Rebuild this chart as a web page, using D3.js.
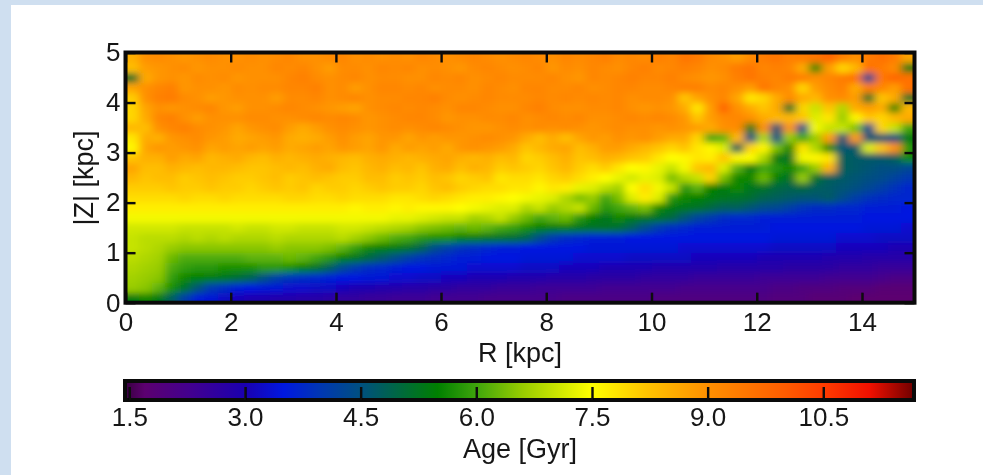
<!DOCTYPE html>
<html><head><meta charset="utf-8">
<style>
html,body{margin:0;padding:0;background:#fff;overflow:hidden}
svg{display:block}
text{font-family:"Liberation Sans",Arial,sans-serif;fill:#161616}
</style>
<script src="https://cdn.jsdelivr.net/npm/d3@7"></script>
</head><body><svg id="c" width="983" height="475"></svg>
<script>
const xTicks=[0,2,4,6,8,10,12,14];
const yTicks=[0,1,2,3,4,5];
const barTicks=[1.5,3.0,4.5,6.0,7.5,9.0,10.5];
const colorStops=[1.44,1.7,2.3,3.0,3.5,4.0,4.5,5.0,5.5,6.0,6.6,7.5,8.2,9.0,10.0,10.5,11.1,11.67];
const colorValues=["#38003f","#5c0070","#420090","#1a00b0","#0018e0","#0038b0","#005080","#006840","#008000","#3fa50c","#98cc00","#ffff00","#ffc400","#ff9000","#ff5c00","#ff3c00","#f01000","#700000"];
const zCenters=[4.9,4.7,4.5,4.3,4.1,3.9,3.7,3.5,3.3,3.1,2.9,2.7,2.5,2.3,2.1,1.9,1.7,1.5,1.3,1.1,0.9,0.7,0.5,0.3,0.1];
const z49=[8.5,9.0,9.1,9.0,8.9,9.0,9.1,9.0,9.0,9.1,9.0,9.1,9.2,9.0,9.0,9.1,9.2,9.0,9.1,9.0,9.1,9.0,9.2,9.1,9.0,9.1,9.2,9.1,9.0,9.1,9.2,9.1,9.0,9.2,9.1,9.2,9.3,9.1,9.2,9.1,9.3,9.2,9.5,9.4,9.1,9.0,8.8,9.1,9.4,9.5,9.3,9.4,9.5,9.8,9.3,9.0,9.4,9.6,9.4,8.7];
const z47=[8.3,8.8,8.9,9.0,9.1,8.9,9.0,9.0,9.1,9.0,9.0,9.2,9.1,9.2,9.0,8.8,9.1,9.1,9.0,9.2,9.1,9.2,9.0,9.1,9.0,8.9,9.1,9.2,9.1,9.0,9.1,9.2,8.9,9.1,9.0,9.2,9.1,9.0,9.2,9.3,9.1,9.2,9.3,9.2,9.0,9.1,9.4,9.5,9.2,9.3,9.2,8.6,5.6,8.8,8.0,8.4,9.6,9.4,9.1,5.4];
const z45=[5.2,8.6,8.9,9.0,8.9,9.1,9.0,9.1,8.9,9.0,9.0,9.0,9.2,9.3,9.1,9.0,9.1,9.2,9.0,9.1,9.1,9.0,9.0,9.2,9.1,9.2,9.0,9.1,9.2,9.1,9.1,9.1,9.2,9.0,8.9,9.2,9.1,9.2,9.3,9.2,9.2,9.3,9.1,9.0,8.9,9.0,9.3,9.5,9.3,9.2,9.4,9.3,9.0,9.2,9.4,9.6,4.4,9.5,9.8,9.6];
const z43=[8.7,9.0,9.2,9.3,8.9,9.0,9.0,8.9,9.1,9.0,9.1,9.1,9.2,9.2,9.3,9.0,9.1,8.8,9.0,9.2,9.2,9.1,9.2,9.0,9.1,9.1,9.0,9.2,9.1,9.0,9.2,9.2,9.1,9.1,9.2,9.0,9.1,9.2,9.2,9.1,9.1,9.2,9.3,9.3,9.1,9.2,9.0,8.8,9.5,9.2,9.0,8.0,8.8,9.1,9.3,8.6,9.4,9.2,8.8,9.6];
const z41=[8.1,9.0,9.3,9.4,9.1,9.0,8.8,8.9,9.0,9.0,9.0,8.8,9.1,9.1,9.2,9.0,9.1,9.2,9.0,9.1,9.1,9.2,9.2,9.3,9.1,9.0,9.1,9.2,9.1,9.1,9.1,9.2,9.1,9.2,9.1,9.2,9.1,9.2,9.0,9.1,9.1,9.0,8.2,8.7,9.0,9.2,8.7,7.8,8.0,8.6,9.1,8.6,8.4,9.0,9.1,8.8,5.2,8.2,8.6,5.2];
const z39=[8.0,8.7,9.0,8.9,9.0,9.1,9.2,8.9,8.8,9.0,9.0,9.1,9.2,9.1,9.0,8.9,8.8,8.7,9.0,9.1,9.2,9.1,9.2,9.1,9.0,9.2,9.2,9.1,9.0,9.0,9.2,9.3,9.1,9.0,9.0,9.1,9.1,9.2,9.0,8.9,9.0,8.9,8.6,7.8,8.8,9.8,9.0,8.6,8.2,8.6,5.2,8.0,7.0,8.2,6.8,8.6,8.8,8.6,5.6,8.4];
const z37=[8.0,8.6,9.2,9.3,9.0,8.8,9.0,9.0,9.0,9.1,9.1,9.0,9.0,9.1,9.2,9.1,9.2,9.1,8.9,9.0,9.1,9.2,9.2,9.1,8.9,9.0,9.0,9.1,9.1,9.2,9.0,9.1,9.2,9.1,9.2,9.0,9.0,9.1,9.2,9.1,9.2,9.1,8.9,8.2,8.8,9.1,9.2,9.0,8.6,8.4,8.4,8.2,7.2,7.8,6.6,7.6,8.2,8.0,8.4,8.6];
const z35=[8.4,8.3,9.0,9.2,9.3,9.1,9.0,8.9,8.7,8.9,9.0,9.1,8.8,8.6,8.8,9.0,9.1,9.0,8.9,9.0,9.1,9.0,9.1,9.2,9.1,9.0,8.9,8.9,9.0,9.1,9.0,9.1,9.0,9.1,9.0,8.9,9.0,9.1,9.0,9.0,8.9,9.0,8.9,8.8,8.6,9.0,9.1,5.4,9.0,4.6,8.9,4.4,7.4,7.0,7.0,6.4,4.4,8.0,7.0,6.0];
const z33=[7.8,8.6,8.5,8.9,9.0,9.1,8.9,8.8,8.6,8.7,8.8,8.9,8.6,8.5,8.6,8.8,9.0,8.8,8.7,8.9,8.9,8.7,8.9,8.8,8.9,8.9,9.0,9.1,9.0,8.9,8.6,8.3,8.6,8.3,8.7,8.9,8.8,9.0,8.9,9.0,8.8,8.6,8.6,8.0,6.0,6.2,8.4,4.5,6.8,4.5,6.6,6.0,6.6,8.8,4.6,8.8,4.6,4.6,4.5,5.4];
const z31=[7.6,8.7,8.9,8.8,8.9,9.0,8.7,8.8,8.7,8.8,8.7,8.8,8.6,8.7,8.8,8.7,8.9,8.8,8.7,8.9,8.6,8.8,8.7,8.8,8.6,8.9,9.0,8.9,8.8,8.6,8.2,8.4,8.6,8.7,8.3,8.5,8.8,8.8,8.6,8.4,8.2,8.0,8.2,7.8,7.6,7.2,4.8,8.0,7.6,6.4,5.6,7.8,6.8,5.6,4.6,4.7,7.2,8.2,9.0,5.8];
const z29=[8.2,8.5,8.5,8.8,8.6,8.7,8.4,8.5,8.6,8.4,8.3,8.5,8.4,8.5,8.6,8.5,8.4,8.3,8.5,8.6,8.5,8.4,8.5,8.6,8.7,8.5,8.4,8.5,8.3,8.4,8.0,8.1,8.3,8.5,8.2,8.3,8.5,8.4,8.2,8.1,7.8,7.5,7.6,7.8,7.7,8.2,7.6,7.5,6.8,5.4,5.2,7.4,7.6,7.8,4.8,4.7,4.7,4.7,4.8,5.6];
const z27=[8.7,8.3,8.3,8.5,8.4,8.3,8.4,8.4,8.3,8.2,8.2,8.3,8.4,8.3,8.5,8.6,8.3,8.2,8.4,8.5,8.3,8.4,8.2,8.5,8.6,8.3,8.5,8.4,8.1,8.2,8.1,8.0,8.2,8.4,8.1,7.9,8.1,7.8,7.5,7.6,7.3,7.0,7.4,8.2,8.4,7.2,6.2,5.4,6.0,5.8,5.6,6.0,6.6,8.5,4.8,4.7,4.6,4.5,4.5,4.3];
const z25=[8.4,8.2,8.3,8.3,8.1,8.2,8.3,8.2,8.1,8.1,8.2,8.3,8.1,8.2,8.3,8.2,8.1,8.1,8.3,8.3,8.1,8.2,8.1,8.3,8.2,8.0,8.1,8.2,7.8,7.9,7.9,7.8,8.0,8.1,7.9,7.7,7.5,7.3,7.1,7.3,7.2,6.4,6.8,7.0,8.0,6.4,5.6,5.6,6.3,5.5,5.2,6.6,5.2,4.8,4.7,4.6,4.5,4.4,4.2,4.0];
const z23=[8.1,8.1,8.1,8.2,8.1,8.1,8.2,8.1,8.1,8.0,8.1,8.2,8.1,8.2,8.0,8.1,8.1,8.0,8.1,8.2,8.1,8.1,8.0,8.2,8.3,8.1,8.0,7.9,7.9,7.8,7.8,7.6,7.8,7.7,7.3,7.2,6.9,6.7,7.5,7.9,7.4,7.0,5.8,6.2,5.5,5.4,5.6,5.3,5.2,5.0,4.9,5.0,4.8,4.7,4.6,4.5,4.3,4.1,3.9,3.7];
const z21=[7.9,7.9,7.9,7.9,8.0,7.9,7.9,8.0,7.9,7.9,7.9,7.9,8.0,8.0,7.9,7.9,8.0,7.9,7.9,7.9,7.8,7.8,7.9,8.0,7.9,7.8,7.7,7.7,7.6,7.5,7.4,7.3,7.2,6.8,6.4,6.6,6.0,6.4,7.2,7.7,7.2,5.8,5.6,5.5,5.4,5.3,5.2,5.1,4.9,4.8,4.7,4.6,4.6,4.7,4.4,4.1,3.9,3.8,3.7,3.7];
const z19=[7.7,7.7,7.7,7.7,7.7,7.7,7.7,7.7,7.7,7.7,7.7,7.7,7.7,7.7,7.7,7.7,7.7,7.6,7.7,7.7,7.6,7.7,7.6,7.6,7.6,7.5,7.4,7.3,7.2,7.2,6.8,7.0,6.6,6.8,7.0,6.3,5.8,6.0,6.2,6.4,5.6,5.4,5.3,5.2,5.0,4.8,4.8,4.6,4.4,4.3,4.1,3.9,3.8,3.8,3.7,3.7,3.6,3.6,3.6,3.5];
const z17=[7.4,7.4,7.4,7.4,7.4,7.4,7.4,7.4,7.4,7.4,7.4,7.4,7.4,7.4,7.4,7.4,7.4,7.4,7.4,7.4,7.3,7.3,7.2,7.1,7.0,7.0,6.7,6.8,7.0,6.6,6.3,6.0,6.2,6.3,5.8,5.5,5.3,5.6,5.4,5.3,5.2,5.0,4.6,4.2,4.0,3.8,3.7,3.7,3.6,3.6,3.6,3.6,3.6,3.6,3.6,3.6,3.5,3.5,3.5,3.5];
const z15=[7.1,7.1,7.1,7.1,7.0,7.0,7.0,7.0,7.1,7.0,7.0,7.1,7.1,7.0,7.0,7.0,7.1,7.1,7.0,6.9,6.8,6.7,6.5,6.4,6.3,6.2,6.3,6.2,6.0,5.9,5.7,5.5,5.4,5.4,5.3,5.2,5.2,5.1,4.8,4.4,4.0,3.8,3.7,3.6,3.6,3.6,3.6,3.6,3.6,3.5,3.5,3.5,3.5,3.5,3.5,3.5,3.4,3.4,3.4,3.3];
const z13=[7.0,6.9,6.9,6.9,6.8,6.9,6.8,6.9,6.8,6.8,6.8,6.9,6.8,6.8,6.8,6.8,6.9,6.7,6.5,6.3,6.1,6.0,5.8,5.7,5.7,5.5,5.4,5.3,5.2,5.1,4.9,4.4,4.0,3.8,3.7,3.6,3.6,3.6,3.5,3.5,3.5,3.5,3.5,3.5,3.5,3.5,3.5,3.5,3.5,3.4,3.4,3.4,3.4,3.4,3.3,3.3,3.3,3.2,3.2,3.2];
const z11=[7.0,6.9,6.8,6.6,6.5,6.5,6.5,6.5,6.5,6.5,6.5,6.6,6.5,6.5,6.5,6.4,6.2,5.9,5.6,5.5,5.4,5.2,4.9,4.4,4.1,3.9,3.8,3.7,3.6,3.6,3.5,3.5,3.5,3.5,3.5,3.4,3.4,3.4,3.4,3.4,3.4,3.4,3.3,3.3,3.3,3.3,3.3,3.3,3.3,3.2,3.2,3.2,3.2,3.2,3.1,3.1,3.1,3.1,3.0,3.0];
const z09=[6.9,6.8,6.7,6.3,6.1,6.1,6.1,6.1,6.1,6.2,6.2,6.2,6.3,6.2,6.0,5.8,5.5,5.3,5.0,4.7,4.4,4.1,3.9,3.8,3.7,3.6,3.6,3.5,3.5,3.5,3.4,3.4,3.4,3.4,3.3,3.3,3.3,3.3,3.2,3.2,3.2,3.2,3.2,3.1,3.1,3.1,3.1,3.1,3.0,3.0,3.0,3.0,3.0,2.9,2.9,2.9,2.8,2.8,2.8,2.8];
const z07=[6.8,6.7,6.6,6.1,5.9,5.8,5.8,5.7,5.7,5.7,5.8,5.8,5.7,5.5,5.2,4.8,4.3,4.0,3.8,3.7,3.6,3.5,3.5,3.4,3.4,3.4,3.3,3.3,3.3,3.3,3.2,3.2,3.2,3.1,3.1,3.1,3.0,3.0,3.0,3.0,2.9,2.9,2.9,2.9,2.9,2.8,2.8,2.8,2.8,2.8,2.7,2.7,2.7,2.7,2.6,2.6,2.6,2.5,2.5,2.5];
const z05=[6.7,6.6,6.5,5.9,5.6,5.5,5.4,5.3,5.1,4.9,4.5,4.1,3.9,3.8,3.7,3.6,3.5,3.5,3.4,3.4,3.3,3.3,3.2,3.2,3.1,3.1,3.0,3.0,3.0,2.9,2.9,2.9,2.8,2.8,2.8,2.7,2.7,2.7,2.7,2.6,2.6,2.6,2.6,2.5,2.5,2.5,2.5,2.5,2.4,2.4,2.4,2.4,2.4,2.3,2.3,2.3,2.3,2.2,2.1,2.1];
const z03=[6.6,6.5,6.2,5.7,5.2,4.6,4.0,3.8,3.6,3.5,3.4,3.4,3.3,3.3,3.2,3.2,3.1,3.0,3.0,2.9,2.9,2.8,2.8,2.7,2.7,2.6,2.6,2.6,2.5,2.5,2.5,2.4,2.4,2.4,2.4,2.4,2.3,2.3,2.3,2.3,2.3,2.3,2.2,2.2,2.2,2.2,2.2,2.2,2.2,2.1,2.1,2.0,2.0,2.0,1.9,1.9,1.9,1.8,1.8,1.8];
const z01=[5.4,5.6,5.4,4.8,4.1,3.6,3.4,3.2,3.1,3.0,3.0,2.9,2.9,2.8,2.8,2.7,2.6,2.6,2.5,2.5,2.4,2.4,2.4,2.3,2.3,2.3,2.3,2.2,2.2,2.2,2.2,2.2,2.2,2.1,2.1,2.1,2.1,2.1,2.1,2.1,2.0,2.0,2.0,2.0,2.0,2.0,2.0,2.0,2.0,1.9,1.9,1.9,1.8,1.8,1.8,1.7,1.7,1.7,1.7,1.7];
const rows=[z49,z47,z45,z43,z41,z39,z37,z35,z33,z31,z29,z27,z25,z23,z21,z19,z17,z15,z13,z11,z09,z07,z05,z03,z01];

const svg=d3.select("#c");
const defs=svg.append("defs");
svg.append("rect").attr("width",983).attr("height",475).attr("fill","#cfdff0");
svg.append("rect").attr("x",11).attr("y",5).attr("width",972).attr("height",470).attr("fill","#fff");

const x=d3.scaleLinear().domain([0,15]).range([125.5,914.5]);
const y=d3.scaleLinear().domain([0,5]).range([302.7,52.5]);
const color=d3.scaleLinear().domain(colorStops).range(colorValues).clamp(true);
const dR=0.25,dZ=0.2,pad=16;

defs.append("clipPath").attr("id","plot").append("rect")
  .attr("x",x(0)).attr("y",y(5)).attr("width",x(15)-x(0)).attr("height",y(0)-y(5));
const fl=defs.append("filter").attr("id","soft").attr("filterUnits","userSpaceOnUse")
  .attr("x",80).attr("y",20).attr("width",880).attr("height",320);
fl.append("feGaussianBlur").attr("stdDeviation","4 3");
const ft=defs.append("filter").attr("id","txt");
ft.append("feGaussianBlur").attr("stdDeviation",0.35);

const clip=svg.append("g").attr("clip-path","url(#plot)");
const heat=clip.append("g").attr("filter","url(#soft)").attr("shape-rendering","crispEdges");
const cells=[];
rows.forEach((row,j)=>row.forEach((v,i)=>cells.push({i,j,v,r0:i*dR,z:zCenters[j]})));
heat.selectAll("rect").data(cells).join("rect")
  .attr("x",d=>x(d.r0)-(d.i===0?pad:0))
  .attr("y",d=>y(d.z+dZ/2)-(d.j===0?pad:0))
  .attr("width",d=>x(d.r0+dR)-x(d.r0)+(d.i===0||d.i===59?pad:0)+0.5)
  .attr("height",d=>y(d.z-dZ/2)-y(d.z+dZ/2)+(d.j===0||d.j===24?pad:0)+0.5)
  .attr("fill",d=>color(d.v));

function styleAxis(g){
  g.select(".domain").remove();
  g.selectAll(".tick line").attr("stroke","#0a0a0a").attr("stroke-width",2.4);
  g.selectAll(".tick text").attr("font-size",26).attr("fill","#161616");
}
const tl=10;
svg.append("g").attr("transform",`translate(0,${y(0)})`).attr("filter","url(#txt)")
  .call(d3.axisBottom(x).tickValues(xTicks).tickSize(-tl).tickPadding(10).tickFormat(d3.format("d")))
  .call(styleAxis);
svg.append("g").attr("transform",`translate(0,${y(5)})`)
  .call(d3.axisTop(x).tickValues(xTicks).tickSize(-tl).tickFormat(""))
  .call(styleAxis);
svg.append("g").attr("transform",`translate(${x(0)},0)`).attr("filter","url(#txt)")
  .call(d3.axisLeft(y).tickValues(yTicks).tickSize(-tl).tickPadding(5).tickFormat(d3.format("d")))
  .call(styleAxis);
svg.append("g").attr("transform",`translate(${x(15)},0)`)
  .call(d3.axisRight(y).tickValues(yTicks).tickSize(-tl).tickFormat(""))
  .call(styleAxis);
svg.append("rect").attr("x",x(0)).attr("y",y(5)).attr("width",x(15)-x(0)).attr("height",y(0)-y(5))
  .attr("fill","none").attr("stroke","#0a0a0a").attr("stroke-width",4);

const lab=svg.append("g").attr("filter","url(#txt)").attr("font-size",27).attr("text-anchor","middle");
lab.append("text").attr("x",520).attr("y",362).text("R [kpc]");
lab.append("text").attr("transform","translate(93,178) rotate(-90)").text("|Z| [kpc]");
lab.append("text").attr("x",520).attr("y",458).text("Age [Gyr]");

const bx=d3.scaleLinear().domain([1.5,10.5]).range([129.3,823.3]);
const barTop=381,barH=19;
const barDomain=[bx.invert(125),bx.invert(914)];
const grad=defs.append("linearGradient").attr("id","bar").attr("gradientUnits","userSpaceOnUse")
  .attr("x1",bx(barDomain[0])).attr("x2",bx(barDomain[1])).attr("y1",0).attr("y2",0);
grad.selectAll("stop").data(colorStops).join("stop")
  .attr("offset",d=>(bx(d)-bx(barDomain[0]))/(bx(barDomain[1])-bx(barDomain[0])))
  .attr("stop-color",d=>color(d));
svg.append("rect").attr("x",bx(barDomain[0])).attr("y",barTop).attr("width",bx(barDomain[1])-bx(barDomain[0])).attr("height",barH)
  .attr("fill","url(#bar)").attr("stroke","#0a0a0a").attr("stroke-width",4);
svg.append("g").attr("transform",`translate(0,${barTop+barH})`).attr("filter","url(#txt)")
  .call(d3.axisBottom(bx).tickValues(barTicks).tickSize(-13).tickPadding(8).tickFormat(d3.format(".1f")))
  .call(styleAxis);
</script></body></html>
